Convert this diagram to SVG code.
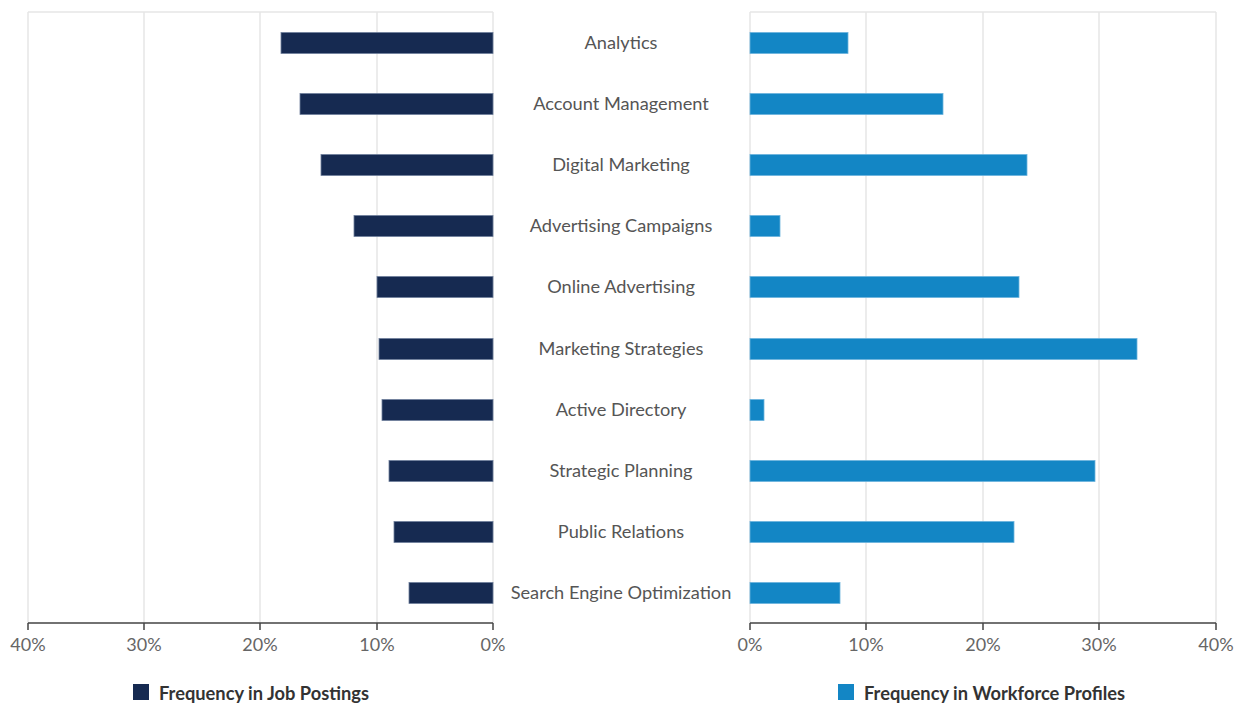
<svg xmlns="http://www.w3.org/2000/svg" width="1239" height="704" viewBox="0 0 1239 704">
<style>
.grid{stroke:#e6e6e6;stroke-width:1.5;fill:none}
.axis{stroke:#444;stroke-width:1.5;fill:none}
.jp{fill:#162a51;stroke:#6f7f9c;stroke-width:0.8}
.wf{fill:#1386c5;stroke:#6bb3dd;stroke-width:0.8}
.cat{font-family:Lato,"Open Sans",sans-serif;font-size:18.2px;fill:#555;text-anchor:middle}
.tick{font-family:Lato,"Open Sans",sans-serif;font-size:18px;fill:#666;text-anchor:middle}
.leg{font-family:Lato,"Open Sans",sans-serif;font-size:18.3px;font-weight:bold;fill:#333}
</style>
<rect width="1239" height="704" fill="#fff"/>
<g id="grid-left">
<path class="grid" d="M28 12H493M28 12V623M144 12V623M260 12V623M377 12V623M493 12V623"/>
</g>
<g id="grid-right">
<path class="grid" d="M750 12H1216M750 12V623M866 12V623M983 12V623M1099 12V623M1216 12V623"/>
</g>
<g id="axes">
<path class="axis" d="M28 623H493M28 623V630M144 623V630M260 623V630M377 623V630M493 623V630"/>
<path class="axis" d="M750 623H1216M750 623V630M866 623V630M983 623V630M1099 623V630M1216 623V630"/>
<text class="tick" x="28" y="651">40%</text>
<text class="tick" x="144" y="651">30%</text>
<text class="tick" x="260" y="651">20%</text>
<text class="tick" x="377" y="651">10%</text>
<text class="tick" x="493" y="651">0%</text>
<text class="tick" x="750" y="651">0%</text>
<text class="tick" x="866" y="651">10%</text>
<text class="tick" x="983" y="651">20%</text>
<text class="tick" x="1099" y="651">30%</text>
<text class="tick" x="1216" y="651">40%</text>
</g>
<g id="bars-job-postings">
<rect class="jp" x="281" y="32.5" width="212" height="21"/>
<rect class="jp" x="300" y="93.5" width="193" height="21"/>
<rect class="jp" x="321" y="154.5" width="172" height="21"/>
<rect class="jp" x="354" y="215.5" width="139" height="21"/>
<rect class="jp" x="377" y="276.5" width="116" height="21"/>
<rect class="jp" x="379" y="338.5" width="114" height="21"/>
<rect class="jp" x="382" y="399.5" width="111" height="21"/>
<rect class="jp" x="389" y="460.5" width="104" height="21"/>
<rect class="jp" x="394" y="521.5" width="99" height="21"/>
<rect class="jp" x="409" y="582.5" width="84" height="21"/>
</g>
<g id="bars-workforce">
<rect class="wf" x="750" y="32.5" width="98" height="21"/>
<rect class="wf" x="750" y="93.5" width="193" height="21"/>
<rect class="wf" x="750" y="154.5" width="277" height="21"/>
<rect class="wf" x="750" y="215.5" width="30" height="21"/>
<rect class="wf" x="750" y="276.5" width="269" height="21"/>
<rect class="wf" x="750" y="338.5" width="387" height="21"/>
<rect class="wf" x="750" y="399.5" width="14" height="21"/>
<rect class="wf" x="750" y="460.5" width="345" height="21"/>
<rect class="wf" x="750" y="521.5" width="264" height="21"/>
<rect class="wf" x="750" y="582.5" width="90" height="21"/>
</g>
<g id="categories">
<text class="cat" x="621" y="49">Analytics</text>
<text class="cat" x="621" y="110">Account Management</text>
<text class="cat" x="621" y="171">Digital Marketing</text>
<text class="cat" x="621" y="232">Advertising Campaigns</text>
<text class="cat" x="621" y="293">Online Advertising</text>
<text class="cat" x="621" y="355">Marketing Strategies</text>
<text class="cat" x="621" y="416">Active Directory</text>
<text class="cat" x="621" y="477">Strategic Planning</text>
<text class="cat" x="621" y="538">Public Relations</text>
<text class="cat" x="621" y="599">Search Engine Optimization</text>
</g>
<g id="legend-job-postings">
<rect x="133" y="684" width="16" height="16" fill="#162a51"/>
<text class="leg" x="159" y="700">Frequency in Job Postings</text>
</g>
<g id="legend-workforce">
<rect x="838" y="684" width="16" height="16" fill="#1386c5"/>
<text class="leg" x="864" y="700">Frequency in Workforce Profiles</text>
</g>
</svg>
